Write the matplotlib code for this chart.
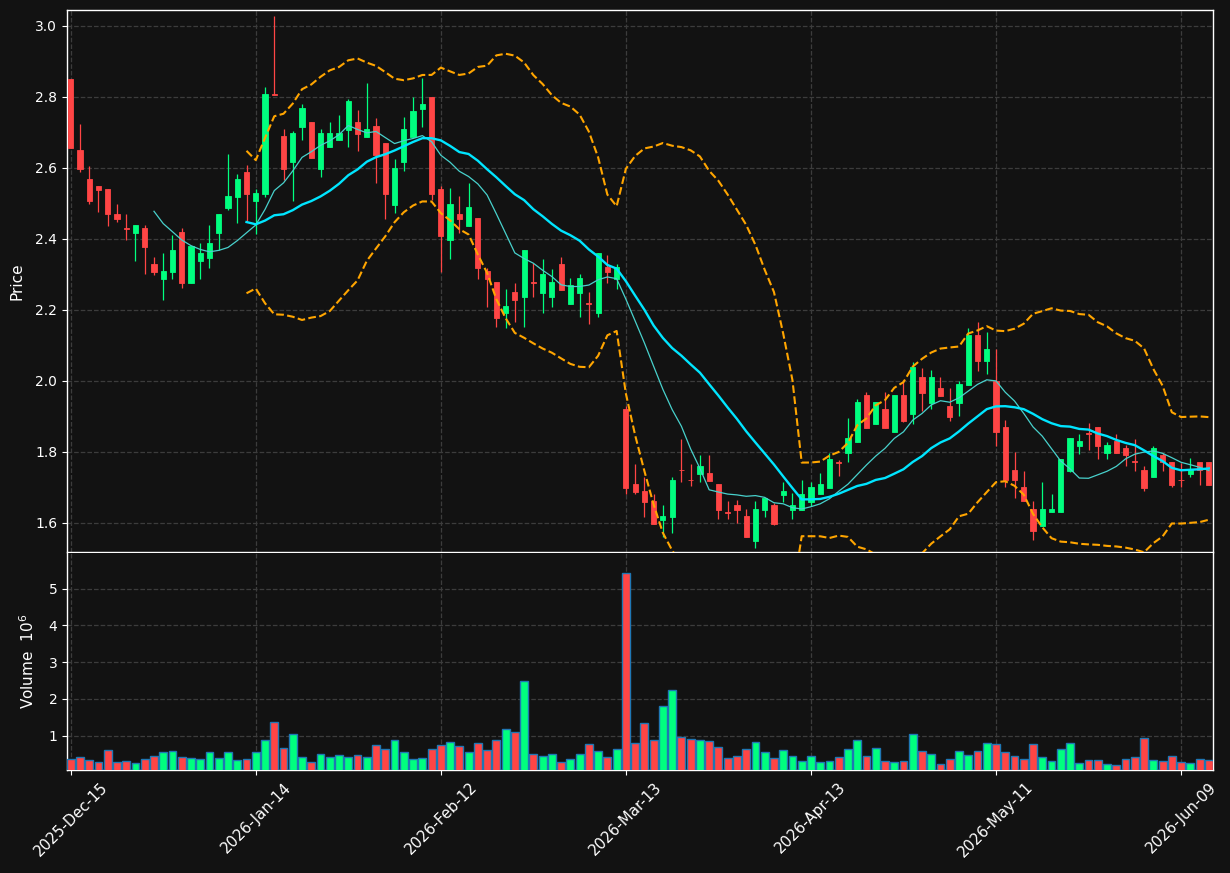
import numpy as np
import pandas as pd
import matplotlib
matplotlib.use('Agg')
import matplotlib.pyplot as plt

# ---------------- data ----------------
start_date = '2025-12-15'
holidays = ['2025-12-25', '2026-01-01', '2026-01-19', '2026-02-16', '2026-04-03', '2026-05-25']

opens = [2.851, 2.651, 2.569, 2.549, 2.541, 2.470, 2.431, 2.417, 2.431, 2.330,
         2.287, 2.307, 2.420, 2.276, 2.339, 2.347, 2.418, 2.486, 2.519, 2.589,
         2.507, 2.528, 2.809, 2.690, 2.618, 2.716, 2.730, 2.598, 2.658, 2.678,
         2.708, 2.730, 2.688, 2.718, 2.670, 2.496, 2.618, 2.687, 2.766, 2.800,
         2.541, 2.397, 2.470, 2.437, 2.459, 2.310, 2.280, 2.190, 2.251, 2.237,
         2.279, 2.249, 2.237, 2.330, 2.218, 2.249, 2.220, 2.190, 2.321, 2.288,
         1.920, 1.710, 1.690, 1.662, 1.609, 1.618, 1.750, 1.722, 1.739, 1.740,
         1.710, 1.631, 1.651, 1.620, 1.550, 1.637, 1.651, 1.679, 1.637, 1.637,
         1.660, 1.680, 1.699, 1.772, 1.798, 1.829, 1.961, 1.880, 1.921, 1.857,
         1.961, 1.908, 2.011, 1.939, 1.980, 1.930, 1.938, 1.989, 2.130, 2.057,
         1.999, 1.870, 1.748, 1.701, 1.639, 1.590, 1.630, 1.630, 1.747, 1.818,
         1.852, 1.870, 1.798, 1.831, 1.811, 1.773, 1.749, 1.728, 1.792, 1.772,
         1.722, 1.739, 1.772, 1.772]
highs = [2.851, 2.723, 2.605, 2.549, 2.541, 2.499, 2.470, 2.439, 2.439, 2.348,
         2.360, 2.410, 2.430, 2.380, 2.389, 2.439, 2.470, 2.639, 2.582, 2.608,
         2.541, 2.827, 3.028, 2.709, 2.703, 2.779, 2.730, 2.709, 2.729, 2.748,
         2.794, 2.763, 2.839, 2.740, 2.670, 2.625, 2.743, 2.799, 2.853, 2.800,
         2.549, 2.544, 2.521, 2.559, 2.459, 2.319, 2.280, 2.258, 2.275, 2.369,
         2.332, 2.343, 2.315, 2.348, 2.289, 2.300, 2.250, 2.360, 2.354, 2.329,
         1.930, 1.765, 1.728, 1.681, 1.650, 1.729, 1.837, 1.765, 1.791, 1.791,
         1.710, 1.661, 1.664, 1.638, 1.661, 1.671, 1.657, 1.715, 1.684, 1.720,
         1.716, 1.740, 1.798, 1.777, 1.895, 1.948, 1.968, 1.941, 1.968, 1.961,
         2.003, 2.054, 2.035, 2.030, 2.010, 1.979, 1.999, 2.148, 2.165, 2.139,
         2.090, 1.889, 1.799, 1.746, 1.661, 1.715, 1.681, 1.780, 1.839, 1.850,
         1.881, 1.870, 1.829, 1.851, 1.820, 1.837, 1.760, 1.817, 1.798, 1.772,
         1.770, 1.784, 1.772, 1.772]
lows = [2.657, 2.588, 2.498, 2.477, 2.437, 2.449, 2.398, 2.339, 2.302, 2.299,
        2.229, 2.288, 2.263, 2.276, 2.288, 2.319, 2.369, 2.482, 2.444, 2.451,
        2.413, 2.518, 2.805, 2.566, 2.508, 2.678, 2.629, 2.574, 2.658, 2.678,
        2.658, 2.649, 2.688, 2.559, 2.457, 2.474, 2.592, 2.687, 2.715, 2.510,
        2.308, 2.343, 2.418, 2.437, 2.288, 2.209, 2.153, 2.148, 2.167, 2.153,
        2.237, 2.191, 2.209, 2.257, 2.218, 2.179, 2.160, 2.179, 2.275, 2.258,
        1.681, 1.681, 1.618, 1.598, 1.561, 1.571, 1.715, 1.705, 1.715, 1.718,
        1.610, 1.610, 1.599, 1.559, 1.528, 1.618, 1.594, 1.660, 1.610, 1.637,
        1.648, 1.680, 1.699, 1.733, 1.771, 1.829, 1.868, 1.880, 1.868, 1.857,
        1.883, 1.880, 1.914, 1.920, 1.958, 1.888, 1.900, 1.989, 2.029, 2.020,
        1.818, 1.701, 1.670, 1.661, 1.553, 1.590, 1.630, 1.630, 1.743, 1.794,
        1.804, 1.779, 1.779, 1.798, 1.759, 1.746, 1.689, 1.728, 1.746, 1.701,
        1.700, 1.729, 1.706, 1.708]
closes = [2.657, 2.598, 2.508, 2.539, 2.469, 2.456, 2.429, 2.439, 2.377, 2.307,
          2.310, 2.369, 2.276, 2.380, 2.361, 2.389, 2.470, 2.521, 2.569, 2.528,
          2.530, 2.808, 2.806, 2.598, 2.699, 2.769, 2.629, 2.699, 2.699, 2.699,
          2.790, 2.697, 2.710, 2.637, 2.527, 2.600, 2.710, 2.761, 2.780, 2.527,
          2.409, 2.499, 2.456, 2.490, 2.319, 2.288, 2.178, 2.211, 2.229, 2.369,
          2.277, 2.301, 2.279, 2.257, 2.270, 2.290, 2.218, 2.360, 2.308, 2.321,
          1.699, 1.687, 1.660, 1.598, 1.620, 1.721, 1.748, 1.720, 1.761, 1.718,
          1.637, 1.629, 1.637, 1.559, 1.639, 1.671, 1.597, 1.690, 1.651, 1.682,
          1.701, 1.710, 1.780, 1.770, 1.839, 1.941, 1.868, 1.941, 1.868, 1.961,
          1.888, 2.039, 1.967, 2.011, 1.958, 1.899, 1.992, 2.130, 2.057, 2.090,
          1.857, 1.720, 1.720, 1.661, 1.578, 1.639, 1.639, 1.780, 1.839, 1.831,
          1.850, 1.818, 1.820, 1.798, 1.790, 1.771, 1.699, 1.811, 1.772, 1.708,
          1.720, 1.750, 1.748, 1.708]
volumes_m = [0.37, 0.43, 0.34, 0.27, 0.62, 0.29, 0.32, 0.26, 0.37, 0.45,
             0.54, 0.59, 0.43, 0.40, 0.37, 0.54, 0.40, 0.54, 0.34, 0.37,
             0.56, 0.89, 1.38, 0.67, 1.05, 0.43, 0.29, 0.51, 0.43, 0.48,
             0.43, 0.48, 0.43, 0.75, 0.64, 0.89, 0.56, 0.37, 0.40, 0.64,
             0.75, 0.83, 0.73, 0.54, 0.81, 0.62, 0.89, 1.19, 1.11, 2.49,
             0.51, 0.45, 0.51, 0.29, 0.37, 0.51, 0.78, 0.59, 0.43, 0.64,
             5.43, 0.81, 1.35, 0.89, 1.81, 2.25, 0.97, 0.92, 0.89, 0.86,
             0.70, 0.40, 0.45, 0.64, 0.83, 0.56, 0.40, 0.62, 0.45, 0.32,
             0.45, 0.29, 0.32, 0.43, 0.64, 0.89, 0.45, 0.67, 0.32, 0.29,
             0.32, 1.05, 0.59, 0.51, 0.24, 0.37, 0.59, 0.48, 0.59, 0.81,
             0.78, 0.56, 0.45, 0.37, 0.78, 0.43, 0.32, 0.64, 0.81, 0.26,
             0.34, 0.34, 0.24, 0.21, 0.37, 0.43, 0.94, 0.34, 0.32, 0.45,
             0.29, 0.26, 0.37, 0.34]

mav_short = 10
mav_long = 20
bb_mult = 2.0

# ---------------- derived ----------------
n = len(closes)
dates = pd.bdate_range(start=start_date, periods=n, freq='C', holidays=holidays)
o = np.array(opens); h = np.array(highs); l = np.array(lows); c = np.array(closes)
v = np.array(volumes_m)
x = np.arange(n)
cs = pd.Series(c)
ma_s = cs.rolling(mav_short).mean()
ma_l = cs.rolling(mav_long).mean()
sd = cs.rolling(mav_long).std(ddof=0)
upper = ma_l + bb_mult * sd
lower = ma_l - bb_mult * sd

# ---------------- style ----------------
BG = '#121212'
UP = '#00ff7f'
DOWN = '#ff4545'
GRID = '#3c3c3c'
up_mask = c >= o
colors = np.where(up_mask, UP, DOWN)

W, H = 1230, 873
fig = plt.figure(figsize=(W / 100, H / 100), dpi=100, facecolor=BG)
ax = fig.add_axes([67 / W, 1 - 552 / H, (1213 - 67) / W, (552 - 10) / H])
axv = fig.add_axes([67 / W, 1 - 770 / H, (1213 - 67) / W, (770 - 553) / H], sharex=ax)

for a in (ax, axv):
    a.set_facecolor(BG)
    for s in a.spines.values():
        s.set_color('white')
        s.set_linewidth(1.0)
    a.tick_params(colors='white', labelsize=10)
    a.grid(True, color=GRID, linestyle='--', linewidth=0.9)
    a.set_axisbelow(True)
axv.spines['top'].set_visible(False)

# candles
ax.vlines(x, l, h, colors=colors, linewidth=0.9, zorder=2)
body_bottom = np.minimum(o, c)
body_h = np.abs(c - o)
ax.bar(x, body_h, bottom=body_bottom, width=0.56, color=colors,
       edgecolor=colors, linewidth=0.6, zorder=3)

# moving averages and bands
ax.plot(x, ma_s, color='#48d1cc', linewidth=0.9, zorder=4)
ax.plot(x, ma_l, color='#00e5ff', linewidth=1.7, zorder=4)
ax.plot(x, upper, color='#ffa500', linestyle='--', linewidth=1.5, zorder=4)
ax.plot(x, lower, color='#ffa500', linestyle='--', linewidth=1.5, zorder=4)

ax.set_ylim(1.518, 3.045)
ax.set_yticks(np.arange(1.6, 3.01, 0.2))
ax.set_ylabel('Price', color='white', fontsize=11)
ax.tick_params(axis='x', labelbottom=False, length=0)

# volume
axv.bar(x, v, width=0.85, color=colors, edgecolor='#1f77b4', linewidth=1.0, zorder=3)
axv.set_ylim(0.3 * v.min(), 1.1 * v.max())
axv.set_yticks([1, 2, 3, 4, 5])
axv.set_ylabel('Volume  $10^6$', color='white', fontsize=11)

tick_idx = list(range(0, n, 20))
tick_labels = [dates[i].strftime('%Y-%b-%d') for i in tick_idx]
axv.set_xticks(tick_idx)
axv.set_xticklabels(tick_labels, rotation=45, ha='center', fontsize=10.8)
axv.set_xlim(-0.4, n - 1 + 0.45)

ax.yaxis.set_label_coords(-0.0375, 0.5)
axv.yaxis.set_label_coords(-0.026, 0.5)

fig.savefig('out.png', dpi=100, facecolor=BG)
